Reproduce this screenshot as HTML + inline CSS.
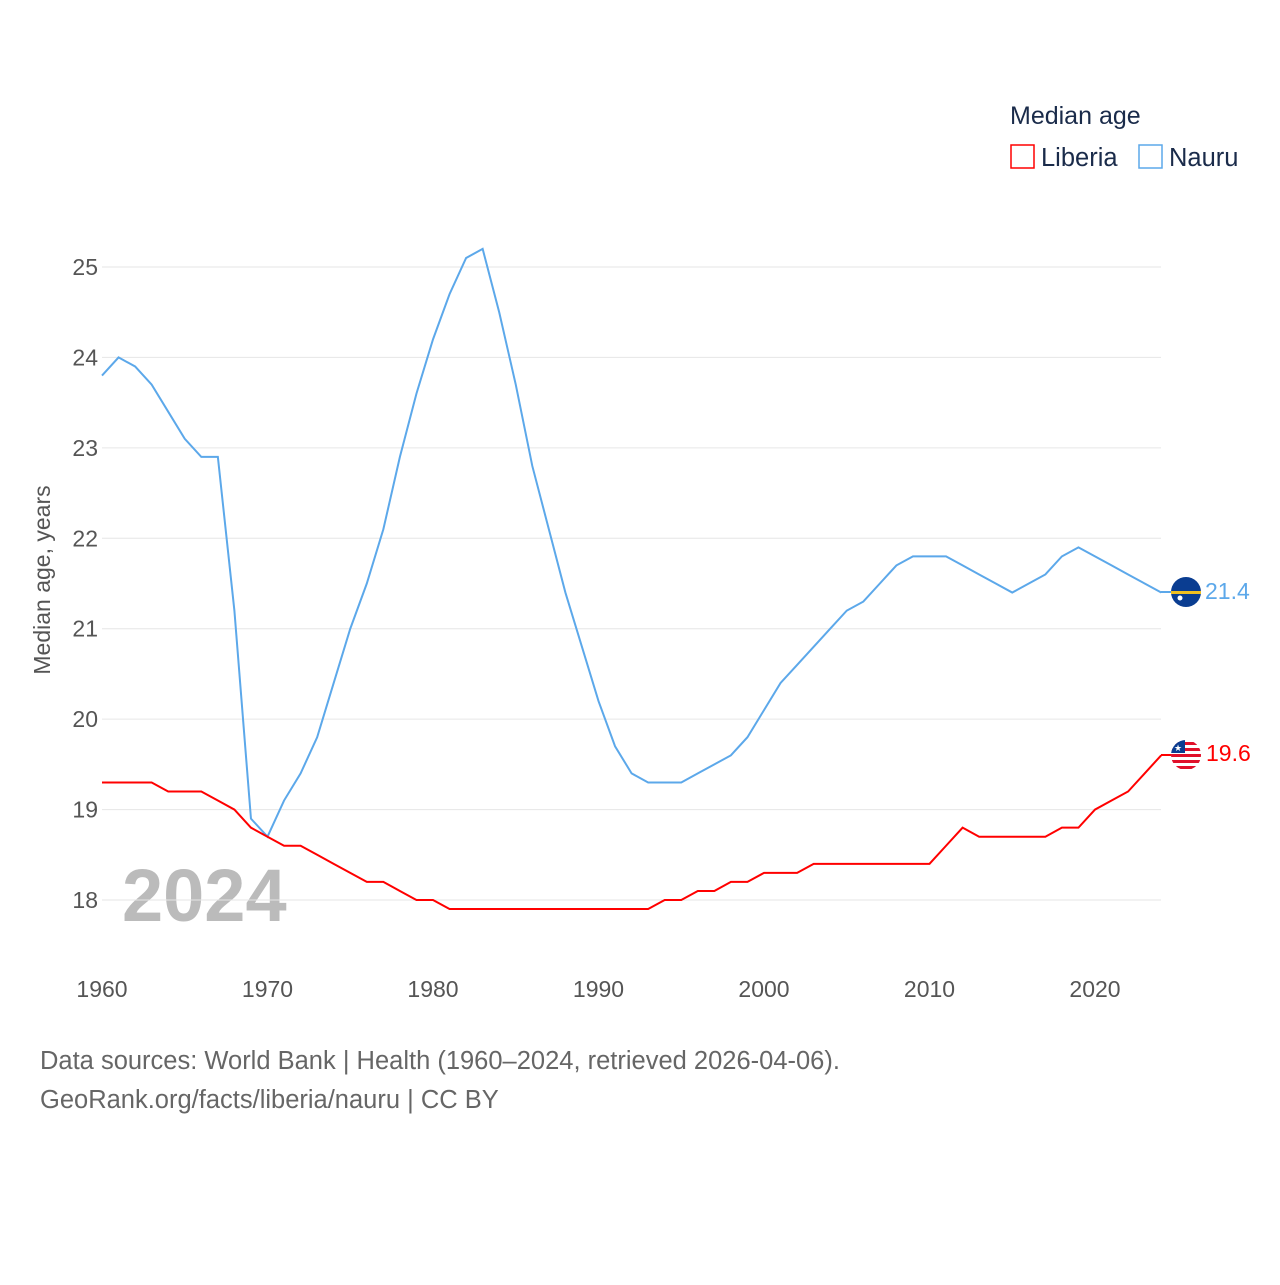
<!DOCTYPE html>
<html><head><meta charset="utf-8"><style>
body{margin:0;background:#fff;font-family:"Liberation Sans",sans-serif}
svg text{font-family:"Liberation Sans",sans-serif}
</style></head><body>
<svg id="chart" width="1280" height="1280">
<text x="1010" y="124" font-size="25" fill="#1a2b4a">Median age</text>
<g><rect x="1011" y="145" width="23" height="23" fill="none" stroke="#f00" stroke-width="1.5"/><text x="1041" y="166" font-size="25.5" fill="#1a2b4a">Liberia</text></g>
<g><rect x="1139" y="145" width="23" height="23" fill="none" stroke="#5ca8ea" stroke-width="1.5"/><text x="1169" y="166" font-size="25.5" fill="#1a2b4a">Nauru</text></g>
<text transform="translate(50,580) rotate(-90)" text-anchor="middle" font-size="23" fill="#555">Median age, years</text>
<text x="122" y="921" font-size="74" font-weight="bold" fill="#bbb">2024</text>
<g id="grid"></g><g id="lines"></g>
<line x1="1161" x2="1172" y1="592" y2="592" stroke="#5ca8ea" stroke-width="2"/>
<line x1="1161" x2="1172" y1="755" y2="755" stroke="#f00" stroke-width="2"/>
<g><circle cx="1186" cy="592" r="15" fill="#0a3d91"/><rect x="1171" y="591" width="30" height="3" fill="#f0c020"/><circle cx="1180" cy="598" r="2.5" fill="#fff"/></g>
<g><clipPath id="lc"><circle cx="1186" cy="755" r="15"/></clipPath><g clip-path="url(#lc)"><rect x="1171" y="740" width="30" height="30" fill="#fff"/><rect x="1171" y="742" width="30" height="3" fill="#e0102a"/><rect x="1171" y="748" width="30" height="3" fill="#e0102a"/><rect x="1171" y="754" width="30" height="3" fill="#e0102a"/><rect x="1171" y="760" width="30" height="3" fill="#e0102a"/><rect x="1171" y="766" width="30" height="3" fill="#e0102a"/><rect x="1171" y="740" width="14" height="13" fill="#0a3d91"/></g><text x="1174" y="751" font-size="9" fill="#fff">★</text></g>
<text x="1205" y="599" font-size="23" fill="#5ca8ea">21.4</text>
<text x="1206" y="761" font-size="23" fill="#f00">19.6</text>
<text x="40" y="1069" font-size="25.5" fill="#666">Data sources: World Bank | Health (1960–2024, retrieved 2026-04-06).</text>
<text x="40" y="1108" font-size="25.5" fill="#666">GeoRank.org/facts/liberia/nauru | CC BY</text>
</svg>
<script>
const years=[];for(let y=1960;y<=2024;y++)years.push(y);
const nauru=[23.8,24.0,23.9,23.7,23.4,23.1,22.9,22.9,21.2,18.9,18.7,19.1,19.4,19.8,20.4,21.0,21.5,22.1,22.9,23.6,24.2,24.7,25.1,25.2,24.5,23.7,22.8,22.1,21.4,20.8,20.2,19.7,19.4,19.3,19.3,19.3,19.4,19.5,19.6,19.8,20.1,20.4,20.6,20.8,21.0,21.2,21.3,21.5,21.7,21.8,21.8,21.8,21.7,21.6,21.5,21.4,21.5,21.6,21.8,21.9,21.8,21.7,21.6,21.5,21.4];
const liberia=[19.3,19.3,19.3,19.3,19.2,19.2,19.2,19.1,19.0,18.8,18.7,18.6,18.6,18.5,18.4,18.3,18.2,18.2,18.1,18.0,18.0,17.9,17.9,17.9,17.9,17.9,17.9,17.9,17.9,17.9,17.9,17.9,17.9,17.9,18.0,18.0,18.1,18.1,18.2,18.2,18.3,18.3,18.3,18.4,18.4,18.4,18.4,18.4,18.4,18.4,18.4,18.6,18.8,18.7,18.7,18.7,18.7,18.7,18.8,18.8,19.0,19.1,19.2,19.4,19.6];
const yTicks=[18,19,20,21,22,23,24,25];
const xTicks=[1960,1970,1980,1990,2000,2010,2020];
const X=y=>102+(y-1960)*16.55, Y=v=>267+(25-v)*90.43;
const ns="http://www.w3.org/2000/svg";
const grid=document.getElementById('grid'),lines=document.getElementById('lines');
function mk(t,a,p){const e=document.createElementNS(ns,t);for(const k in a)e.setAttribute(k,a[k]);p.appendChild(e);return e;}
yTicks.forEach(v=>{const l=mk('line',{x1:102,x2:1161,y1:Y(v),y2:Y(v),stroke:'#e6e6e6'},grid);


const t=mk('text',{x:98,y:Y(v)+8,'text-anchor':'end','font-size':23,fill:'#555'},grid);t.textContent=v;

});
xTicks.forEach(v=>{const t=mk('text',{x:X(v),y:997,'text-anchor':'middle','font-size':23,fill:'#555'},grid);t.textContent=v;

});
function line(d,c,n){const p=mk('polyline',{points:d.map((v,i)=>X(years[i])+','+Y(v)).join(' '),fill:'none',stroke:c,'stroke-width':2},lines);

}
line(nauru,'#5ca8ea','nauru-line');line(liberia,'#f00','liberia-line');
</script>
</body></html>
